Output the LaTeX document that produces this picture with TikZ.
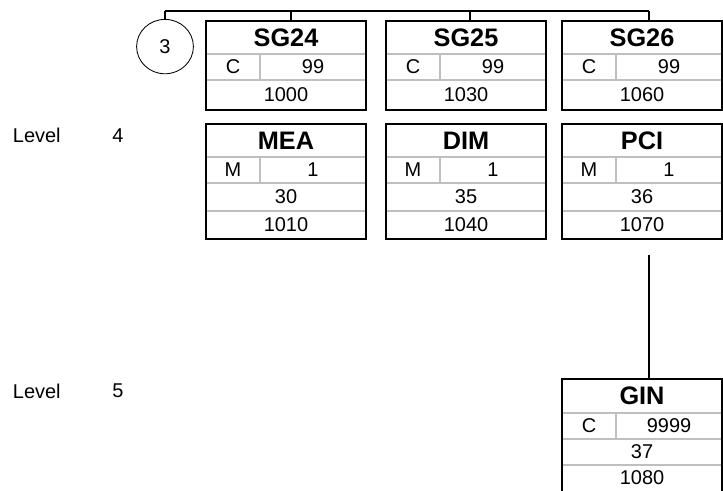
\documentclass[tikz,border=0pt]{standalone}
\usepackage{fontspec}
\setmainfont{Liberation Sans}
\usepackage{tikz}
\usepackage{xcolor}
\usetikzlibrary{shapes.geometric}

\begin{document}
\begin{tikzpicture}[font=\fontsize{14.2}{16}\selectfont,
  segbox/.style={draw,line width=1.5pt,minimum width=4cm,inner sep=0pt,outer sep=0pt},
  sepline/.style={draw=black!25,line width=1pt},
  conn/.style={line width=1.5pt},
  ttl/.style={font=\fontsize{18}{20}\selectfont\bfseries}]
  \useasboundingbox (0,0) rectangle (18.075,12.275);
  \clip (0,0) rectangle (18.075,12.275);
  % level labels
  \node[anchor=west] (lv4) at (0.2,8.89) {Level};
  \node (lv4n) at (2.95,8.89) {4};
  \node[anchor=west] (lv5) at (0.2,2.5) {Level};
  \node (lv5n) at (2.95,2.5) {5};
  % group bar and circle
  \coordinate (bar3) at (4.125,12.0);
  \coordinate (bar24) at (7.275,12.0);
  \coordinate (bar25) at (11.75,12.0);
  \coordinate (bar26) at (16.225,12.0);
  \node[ellipse,draw,line width=0.6pt,minimum width=1.42cm,minimum height=1.36cm,inner sep=0pt] (c3) at (4.125,11.11) {3};
  \draw[conn] (bar3) -- (bar26);
  \draw[conn] (bar3) -- (c3.north);
  % SG24
  \draw[sepline] (5.15,10.925) -- (9.15,10.925);
  \draw[sepline] (5.15,10.275) -- (9.15,10.275);
  \draw[sepline] (6.5,10.925) -- (6.5,10.275);
  \node[segbox,minimum height=2.225cm] (sg24) at (7.15,10.6375) {};
  \node[ttl] (sg24t) at (7.15,11.3375) {SG24};
  \node (sg24s) at (5.825,10.6) {C};
  \node (sg24r) at (7.825,10.6) {99};
  \node (sg24n) at (7.15,9.9) {1000};
  % SG25
  \draw[sepline] (9.65,10.925) -- (13.65,10.925);
  \draw[sepline] (9.65,10.275) -- (13.65,10.275);
  \draw[sepline] (11.0,10.925) -- (11.0,10.275);
  \node[segbox,minimum height=2.225cm] (sg25) at (11.65,10.6375) {};
  \node[ttl] (sg25t) at (11.65,11.3375) {SG25};
  \node (sg25s) at (10.325,10.6) {C};
  \node (sg25r) at (12.325,10.6) {99};
  \node (sg25n) at (11.65,9.9) {1030};
  % SG26
  \draw[sepline] (14.05,10.925) -- (18.05,10.925);
  \draw[sepline] (14.05,10.275) -- (18.05,10.275);
  \draw[sepline] (15.4,10.925) -- (15.4,10.275);
  \node[segbox,minimum height=2.225cm] (sg26) at (16.05,10.6375) {};
  \node[ttl] (sg26t) at (16.05,11.3375) {SG26};
  \node (sg26s) at (14.725,10.6) {C};
  \node (sg26r) at (16.725,10.6) {99};
  \node (sg26n) at (16.05,9.9) {1060};
  \draw[conn] (bar24) -- (bar24 |- sg24.north);
  \draw[conn] (bar25) -- (bar25 |- sg25.north);
  \draw[conn] (bar26) -- (bar26 |- sg26.north);
  % MEA
  \draw[sepline] (5.15,8.35) -- (9.15,8.35);
  \draw[sepline] (5.15,7.7) -- (9.15,7.7);
  \draw[sepline] (5.15,7.0) -- (9.15,7.0);
  \draw[sepline] (6.5,8.35) -- (6.5,7.7);
  \node[segbox,minimum height=2.875cm] (mea) at (7.15,7.7375) {};
  \node[ttl] (meat) at (7.15,8.7625) {MEA};
  \node (meas) at (5.825,8.025) {M};
  \node (mear) at (7.825,8.025) {1};
  \node (meap) at (7.15,7.35) {30};
  \node (mean) at (7.15,6.65) {1010};
  % DIM
  \draw[sepline] (9.65,8.35) -- (13.65,8.35);
  \draw[sepline] (9.65,7.7) -- (13.65,7.7);
  \draw[sepline] (9.65,7.0) -- (13.65,7.0);
  \draw[sepline] (11.0,8.35) -- (11.0,7.7);
  \node[segbox,minimum height=2.875cm] (dim) at (11.65,7.7375) {};
  \node[ttl] (dimt) at (11.65,8.7625) {DIM};
  \node (dims) at (10.325,8.025) {M};
  \node (dimr) at (12.325,8.025) {1};
  \node (dimp) at (11.65,7.35) {35};
  \node (dimn) at (11.65,6.65) {1040};
  % PCI
  \draw[sepline] (14.05,8.35) -- (18.05,8.35);
  \draw[sepline] (14.05,7.7) -- (18.05,7.7);
  \draw[sepline] (14.05,7.0) -- (18.05,7.0);
  \draw[sepline] (15.4,8.35) -- (15.4,7.7);
  \node[segbox,minimum height=2.875cm] (pci) at (16.05,7.7375) {};
  \node[ttl] (pcit) at (16.05,8.7625) {PCI};
  \node (pcis) at (14.725,8.025) {M};
  \node (pcir) at (16.725,8.025) {1};
  \node (pcip) at (16.05,7.35) {36};
  \node (pcin) at (16.05,6.65) {1070};
  % GIN
  \draw[sepline] (14.05,1.95) -- (18.05,1.95);
  \draw[sepline] (14.05,1.3) -- (18.05,1.3);
  \draw[sepline] (14.05,0.65) -- (18.05,0.65);
  \draw[sepline] (15.4,1.95) -- (15.4,1.3);
  \node[segbox,minimum height=2.9cm] (gin) at (16.05,1.35) {};
  \node[ttl] (gint) at (16.05,2.375) {GIN};
  \node (gins) at (14.725,1.625) {C};
  \node (ginr) at (16.725,1.625) {9999};
  \node (ginp) at (16.05,0.975) {37};
  \node (ginn) at (16.05,0.33) {1080};
  \draw[conn] ([yshift=-0.4cm]pci.south -| bar26) -- (gin.north -| bar26);
\end{tikzpicture}
\end{document}
